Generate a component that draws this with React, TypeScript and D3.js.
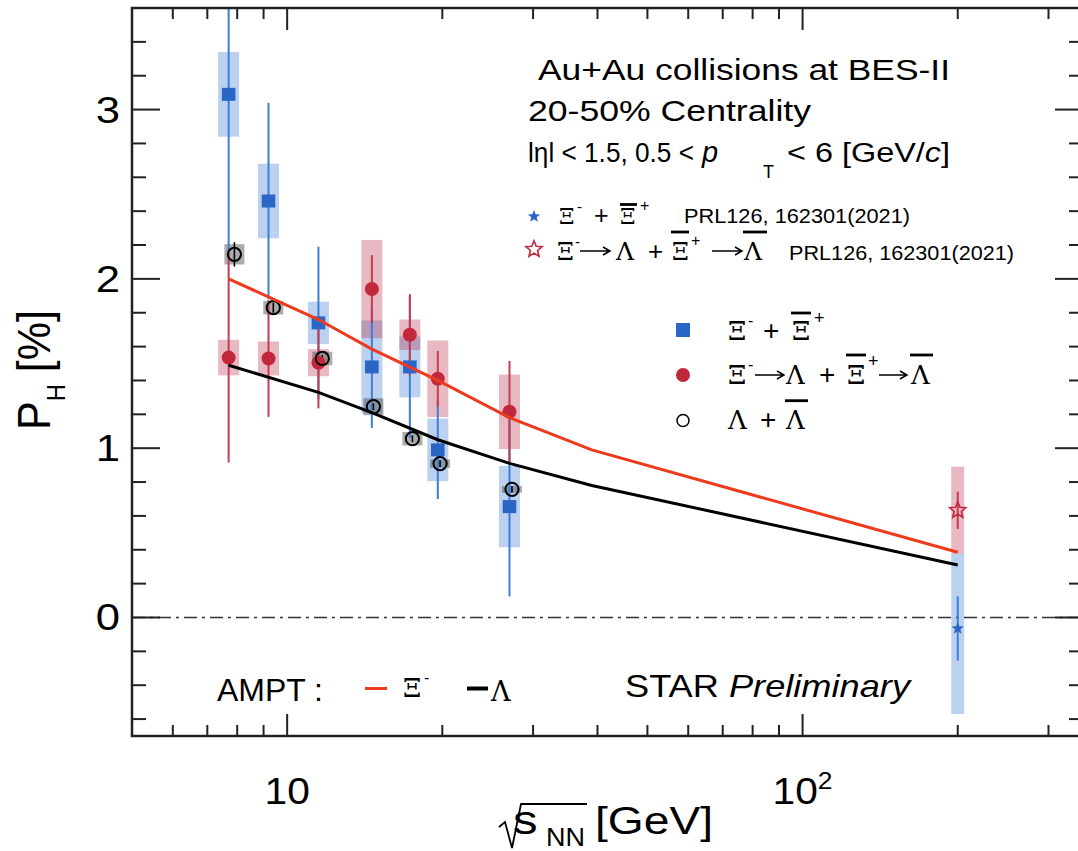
import React from 'react';
import * as d3 from 'd3';

const SANS = '"Liberation Sans", Arial, Helvetica, sans-serif';
const SERIF = '"DejaVu Serif", "Liberation Serif", serif';

// ---- BES-II data (sqrt(s_NN) in GeV, P_H in %) ----
const energies = [7.7, 9.2, 11.5, 14.6, 17.3, 19.6, 27];
const xiVal = [3.09, 2.46, 1.74, 1.48, 1.48, 0.99, 0.655];
const xiStat = [0.95, 0.58, 0.45, 0.36, 0.42, 0.29, 0.53];
const xiSys = [0.25, 0.22, 0.125, 0.275, 0.18, 0.185, 0.24];

const xiLamVal = [1.535, 1.53, 1.505, 1.94, 1.67, 1.41, 1.215];
const xiLamStat = [0.62, 0.345, 0.27, 0.2, 0.24, 0.165, 0.3];
const xiLamSys = [0.105, 0.1, 0.08, 0.29, 0.09, 0.226, 0.22];

const lamEnergies = [7.9, 9.4, 11.7, 14.7, 17.5, 19.8, 27.3];
const lamVal = [2.145, 1.83, 1.53, 1.245, 1.056, 0.909, 0.757];
const lamStat = [0.072, 0.03, 0.02, 0.02, 0.02, 0.02, 0.02];
const lamSys = [0.06, 0.04, 0.04, 0.05, 0.04, 0.025, 0.02];

// ---- PRL126, 162301 (2021), 200 GeV ----
const prlEnergies = [200];
const prlXiVal = [-0.065];
const prlXiStat = [0.19];
const prlXiSysLo = [0.505];
const prlXiSysHi = [0.44];
const prlXiLamVal = [0.633];
const prlXiLamStat = [0.11];
const prlXiLamSys = [0.258];

// ---- AMPT ----
const amptEnergies = [7.7, 11.5, 14.6, 19.6, 27, 39, 200];
const amptXi = [2.0, 1.76, 1.585, 1.4, 1.18, 0.99, 0.385];
const amptLam = [1.49, 1.33, 1.21, 1.05, 0.91, 0.78, 0.31];

// ---- axis ticks ----
const yMajor = [0, 1, 2, 3];
const yMajorLabels = ['0', '1', '2', '3'];
const yMinorTenths = [-6, -4, -2, 2, 4, 6, 8, 12, 14, 16, 18, 22, 24, 26, 28, 32, 34];
const xMajor = [10, 100];

const BLUE = '#2a66c6';
const BLUE_BAR = '#3d7ed9';
const BLUE_BOX = 'rgba(45,112,205,0.32)';
const RED = '#c1283b';
const RED_BAR = '#c43d52';
const RED_BOX = 'rgba(188,42,72,0.33)';
const GRAY_BOX = 'rgba(70,70,70,0.45)';
const AMPT_RED = '#ee3a1c';

function starPath(cx: number, cy: number, R: number, r: number, n = 5) {
  const pts: string[] = [];
  for (let i = 0; i < 2 * n; i++) {
    const a = -Math.PI / 2 + (i * Math.PI) / n;
    const rad = i % 2 === 0 ? R : r;
    pts.push(`${(cx + rad * Math.cos(a)).toFixed(2)},${(cy + rad * Math.sin(a)).toFixed(2)}`);
  }
  return 'M' + pts.join('L') + 'Z';
}

type TP = {
  x: number; y: number; size: number; family?: string; anchor?: string;
  len?: number; adj?: string; italic?: boolean; sx?: number; fill?: string; children?: any;
};
function Txt({ x, y, size, family = SANS, anchor = 'start', len, adj = 'spacingAndGlyphs', italic, sx = 1, fill = '#000', children }: TP) {
  return (
    <text
      transform={`translate(${x},${y})${sx !== 1 ? ` scale(${sx},1)` : ''}`}
      fontSize={size}
      fontFamily={family}
      textAnchor={anchor as any}
      textLength={len}
      lengthAdjust={len ? (adj as any) : undefined}
      fontStyle={italic ? 'italic' : undefined}
      fill={fill}
    >
      {children}
    </text>
  );
}

type Piece = { t: string; x: number; y: number; size: number; serif?: boolean };
function Formula({ pieces }: { pieces: Piece[] }) {
  return (
    <text fill="#000">
      {pieces.map((p, i) => (
        <tspan key={i} x={p.x} y={p.y} fontSize={p.size} fontFamily={p.serif ? SERIF : SANS}>{p.t}</tspan>
      ))}
    </text>
  );
}
function Bar({ x1, x2, y }: { x1: number; x2: number; y: number }) {
  return <line x1={x1} x2={x2} y1={y} y2={y} stroke="#000" strokeWidth={2.8} />;
}
function Arrow({ x1, x2, y }: { x1: number; x2: number; y: number }) {
  return (
    <path d={`M${x1},${y} L${x2},${y} M${x2 - 7},${y - 4} L${x2},${y} L${x2 - 7},${y + 4}`}
      fill="none" stroke="#000" strokeWidth={1.5} />
  );
}

export default function App() {
  const W = 1078, H = 851;
  const x = d3.scaleLog().domain([5, 350]).range([132, 1083]);
  const y = d3.scaleLinear().domain([-0.7, 3.6]).range([736, 8]);
  const [xl, xr] = x.range();
  const [yb, yt] = y.range();
  const xMinor = x.ticks().filter((t) => t > 5 && t < 350 && !xMajor.includes(t));

  const line = d3.line<number>();
  const amptXiPath = line(amptEnergies.map((e, i) => [x(e), y(amptXi[i])] as [number, number]));
  const amptLamPath = line(amptEnergies.map((e, i) => [x(e), y(amptLam[i])] as [number, number]));

  const boxW = 21, lamBoxW = 20, prlBoxW = 13;

  return (
    <svg width={W} height={H} style={{ position: 'absolute', left: 0, top: 0, background: '#fff' }}>
      <defs>
        <clipPath id="plotArea">
          <rect x={xl} y={yt} width={xr - xl} height={yb - yt} />
        </clipPath>
      </defs>
      <rect x={0} y={0} width={W} height={H} fill="#fff" />

      <g clipPath="url(#plotArea)">
        {/* zero line */}
        <line x1={xl} x2={xr} y1={y(0)} y2={y(0)} stroke="#333" strokeWidth={1.6} strokeDasharray="13 5 3 5" />

        {/* systematic boxes */}
        {energies.map((e, i) => (
          <rect key={'bb' + i} x={x(e) - boxW / 2} y={y(xiVal[i] + xiSys[i])} width={boxW}
            height={y(xiVal[i] - xiSys[i]) - y(xiVal[i] + xiSys[i])} fill={BLUE_BOX} />
        ))}
        {prlEnergies.map((e, i) => (
          <rect key={'pb' + i} x={x(e) - prlBoxW / 2} y={y(prlXiVal[i] + prlXiSysHi[i])} width={prlBoxW}
            height={y(prlXiVal[i] - prlXiSysLo[i]) - y(prlXiVal[i] + prlXiSysHi[i])} fill={BLUE_BOX} />
        ))}
        {energies.map((e, i) => (
          <rect key={'rb' + i} x={x(e) - boxW / 2} y={y(xiLamVal[i] + xiLamSys[i])} width={boxW}
            height={y(xiLamVal[i] - xiLamSys[i]) - y(xiLamVal[i] + xiLamSys[i])} fill={RED_BOX} />
        ))}
        {prlEnergies.map((e, i) => (
          <rect key={'pr' + i} x={x(e) - prlBoxW / 2} y={y(prlXiLamVal[i] + prlXiLamSys[i])} width={prlBoxW}
            height={y(prlXiLamVal[i] - prlXiLamSys[i]) - y(prlXiLamVal[i] + prlXiLamSys[i])} fill={RED_BOX} />
        ))}
        {lamEnergies.map((e, i) => (
          <rect key={'gb' + i} x={x(e) - lamBoxW / 2} y={y(lamVal[i] + lamSys[i])} width={lamBoxW}
            height={y(lamVal[i] - lamSys[i]) - y(lamVal[i] + lamSys[i])} fill={GRAY_BOX} />
        ))}

        {/* statistical bars */}
        {energies.map((e, i) => (
          <line key={'bs' + i} x1={x(e)} x2={x(e)} y1={y(xiVal[i] + xiStat[i])} y2={y(xiVal[i] - xiStat[i])} stroke={BLUE_BAR} strokeWidth={2} />
        ))}
        {prlEnergies.map((e, i) => (
          <line key={'ps' + i} x1={x(e)} x2={x(e)} y1={y(prlXiVal[i] + prlXiStat[i])} y2={y(prlXiVal[i] - prlXiStat[i])} stroke={BLUE_BAR} strokeWidth={2} />
        ))}
        {energies.map((e, i) => (
          <line key={'rs' + i} x1={x(e)} x2={x(e)} y1={y(xiLamVal[i] + xiLamStat[i])} y2={y(xiLamVal[i] - xiLamStat[i])} stroke={RED_BAR} strokeWidth={2} />
        ))}
        {prlEnergies.map((e, i) => (
          <line key={'prs' + i} x1={x(e)} x2={x(e)} y1={y(prlXiLamVal[i] + prlXiLamStat[i])} y2={y(prlXiLamVal[i] - prlXiLamStat[i])} stroke={RED_BAR} strokeWidth={2} />
        ))}
        {lamEnergies.map((e, i) => (
          <line key={'gs' + i} x1={x(e)} x2={x(e)} y1={y(lamVal[i] + lamStat[i])} y2={y(lamVal[i] - lamStat[i])} stroke="#000" strokeWidth={1.6} />
        ))}

        {/* markers */}
        {energies.map((e, i) => (
          <rect key={'bm' + i} x={x(e) - 6.8} y={y(xiVal[i]) - 6.5} width={13.6} height={13} fill={BLUE} />
        ))}
        {prlEnergies.map((e, i) => (
          <path key={'pm' + i} d={starPath(x(e), y(prlXiVal[i]), 6.5, 2.8)} fill={BLUE} />
        ))}
        {energies.map((e, i) => (
          <circle key={'rm' + i} cx={x(e)} cy={y(xiLamVal[i])} r={7} fill={RED} />
        ))}
        {prlEnergies.map((e, i) => (
          <path key={'prm' + i} d={starPath(x(e), y(prlXiLamVal[i]), 8.5, 3.8)} fill="none" stroke={RED} strokeWidth={1.6} />
        ))}
        {lamEnergies.map((e, i) => (
          <circle key={'gm' + i} cx={x(e)} cy={y(lamVal[i])} r={6.6} fill="none" stroke="#000" strokeWidth={2} />
        ))}

        {/* AMPT */}
        <path d={amptXiPath || ''} fill="none" stroke={AMPT_RED} strokeWidth={3} />
        <path d={amptLamPath || ''} fill="none" stroke="#000" strokeWidth={3} />
      </g>

      {/* frame and ticks */}
      <rect x={xl} y={yt} width={xr - xl} height={yb - yt} fill="none" stroke="#222" strokeWidth={2.5} />
      {yMajor.map((v) => (
        <g key={'ym' + v}>
          <line x1={xl} x2={xl + 28} y1={y(v)} y2={y(v)} stroke="#222" strokeWidth={2} />
          <line x1={xr - 28} x2={xr} y1={y(v)} y2={y(v)} stroke="#222" strokeWidth={2} />
        </g>
      ))}
      {yMinorTenths.map((t) => (
        <g key={'yn' + t}>
          <line x1={xl} x2={xl + 14} y1={y(t / 10)} y2={y(t / 10)} stroke="#222" strokeWidth={2} />
          <line x1={xr - 14} x2={xr} y1={y(t / 10)} y2={y(t / 10)} stroke="#222" strokeWidth={2} />
        </g>
      ))}
      {xMajor.map((v) => (
        <g key={'xm' + v}>
          <line x1={x(v)} x2={x(v)} y1={yb} y2={yb - 22} stroke="#222" strokeWidth={2} />
          <line x1={x(v)} x2={x(v)} y1={yt} y2={yt + 22} stroke="#222" strokeWidth={2} />
        </g>
      ))}
      {xMinor.map((v) => (
        <g key={'xn' + v}>
          <line x1={x(v)} x2={x(v)} y1={yb} y2={yb - 11} stroke="#222" strokeWidth={2} />
          <line x1={x(v)} x2={x(v)} y1={yt} y2={yt + 11} stroke="#222" strokeWidth={2} />
        </g>
      ))}

      {/* tick labels */}
      {yMajor.map((v, i) => (
        <Txt key={'yl' + v} x={120} y={y(v) + 13} size={37} anchor="end" sx={1.18}>{yMajorLabels[i]}</Txt>
      ))}
      <Txt x={x(10)} y={804} size={37} anchor="middle" sx={1.1}>10</Txt>
      <Txt x={x(100)} y={804} size={37} anchor="middle" sx={1.1}>
        10<tspan fontSize={24} dy={-15}>2</tspan>
      </Txt>

      {/* axis titles */}
      <text transform="translate(50,430) scale(1.2,1) rotate(-90)" fontFamily={SANS} fontSize={38} textLength={120} lengthAdjust="spacingAndGlyphs">
        P<tspan fontSize={21} dy={12.5}>H</tspan><tspan dy={-12.5}> [%]</tspan>
      </text>
      <path d="M499,827 L505,822 L512,848 L521,804 L587,804" fill="none" stroke="#000" strokeWidth={1.8} />
      <Txt x={513} y={834} size={41} sx={1.2}>s</Txt>
      <Txt x={546} y={846} size={25} len={39}>NN</Txt>
      <Txt x={595} y={834} size={38} len={118}>[GeV]</Txt>

      {/* header text */}
      <Txt x={538} y={80} size={30} len={412}>Au+Au collisions at BES-II</Txt>
      <Txt x={528} y={121} size={30} len={283}>20-50% Centrality</Txt>
      <Txt x={528} y={162} size={27} len={166}>lηl &lt; 1.5, 0.5 &lt;</Txt>
      <Txt x={702} y={162} size={29} italic>p</Txt>
      <Txt x={763} y={178} size={18}>T</Txt>
      <Txt x={787} y={162} size={27} len={163}>
        &lt; 6 [GeV/<tspan fontStyle="italic">c</tspan>]
      </Txt>

      {/* PRL legend row 1 */}
      <path d={starPath(534, 216.5, 6.5, 2.8)} fill={BLUE} />
      <Formula pieces={[
        { t: 'Ξ', x: 559, y: 224, size: 22, serif: true },
        { t: '-', x: 577, y: 212, size: 15 },
        { t: '+', x: 594, y: 224, size: 25 },
        { t: 'Ξ', x: 620, y: 224, size: 22, serif: true },
        { t: '+', x: 640, y: 211, size: 16 },
      ]} />
      <Bar x1={620} x2={637} y={204.5} />
      <Txt x={684} y={223} size={21} len={226}>PRL126, 162301(2021)</Txt>

      {/* PRL legend row 2 */}
      <path d={starPath(534, 249.3, 8.5, 3.8)} fill="#fff" stroke={RED} strokeWidth={1.6} />
      <Formula pieces={[
        { t: 'Ξ', x: 557, y: 260, size: 24, serif: true },
        { t: '-', x: 575, y: 247, size: 15 },
        { t: 'Λ', x: 616, y: 260, size: 25, serif: true },
        { t: '+', x: 648, y: 260, size: 26 },
        { t: 'Ξ', x: 672, y: 260, size: 24, serif: true },
        { t: '+', x: 691, y: 246, size: 16 },
        { t: 'Λ', x: 744, y: 260, size: 25, serif: true },
      ]} />
      <Arrow x1={580} x2={610} y={251} />
      <Arrow x1={712} x2={742} y={251} />
      <Bar x1={671} x2={689} y={232} />
      <Bar x1={743} x2={767} y={232} />
      <Txt x={789} y={260} size={21} len={225}>PRL126, 162301(2021)</Txt>

      {/* main legend */}
      <rect x={683 - 7} y={330 - 7} width={14} height={14} fill={BLUE} />
      <Formula pieces={[
        { t: 'Ξ', x: 728, y: 340, size: 26, serif: true },
        { t: '-', x: 748, y: 326, size: 16 },
        { t: '+', x: 763, y: 340, size: 28 },
        { t: 'Ξ', x: 792, y: 340, size: 26, serif: true },
        { t: '+', x: 814, y: 324, size: 18 },
      ]} />
      <Bar x1={791} x2={811} y={313} />

      <circle cx={683} cy={375} r={7} fill={RED} />
      <Formula pieces={[
        { t: 'Ξ', x: 728, y: 384, size: 26, serif: true },
        { t: '-', x: 748, y: 370, size: 16 },
        { t: 'Λ', x: 786, y: 384, size: 26, serif: true },
        { t: '+', x: 819, y: 384, size: 28 },
        { t: 'Ξ', x: 847, y: 384, size: 26, serif: true },
        { t: '+', x: 868, y: 367, size: 18 },
        { t: 'Λ', x: 911, y: 384, size: 26, serif: true },
      ]} />
      <Arrow x1={755} x2={784} y={375} />
      <Arrow x1={879} x2={907} y={375} />
      <Bar x1={846} x2={866} y={355} />
      <Bar x1={910} x2={933} y={355} />

      <circle cx={683} cy={420.5} r={6} fill="none" stroke="#000" strokeWidth={1.5} />
      <Formula pieces={[
        { t: 'Λ', x: 728, y: 429, size: 26, serif: true },
        { t: '+', x: 760, y: 429, size: 28 },
        { t: 'Λ', x: 786, y: 429, size: 26, serif: true },
      ]} />
      <Bar x1={785} x2={808} y={400.7} />

      {/* AMPT legend */}
      <Txt x={217} y={701} size={31} len={106}>AMPT :</Txt>
      <line x1={365} x2={387} y1={688.5} y2={688.5} stroke={AMPT_RED} strokeWidth={3} />
      <Formula pieces={[
        { t: 'Ξ', x: 403, y: 697, size: 26, serif: true },
        { t: '-', x: 424, y: 683, size: 16 },
      ]} />
      <line x1={467} x2={488} y1={688.5} y2={688.5} stroke="#000" strokeWidth={4} />
      <Formula pieces={[{ t: 'Λ', x: 491, y: 701, size: 27, serif: true }]} />

      {/* STAR Preliminary */}
      <Txt x={625} y={697} size={32} len={285}>
        STAR <tspan fontStyle="italic">Preliminary</tspan>
      </Txt>
    </svg>
  );
}
